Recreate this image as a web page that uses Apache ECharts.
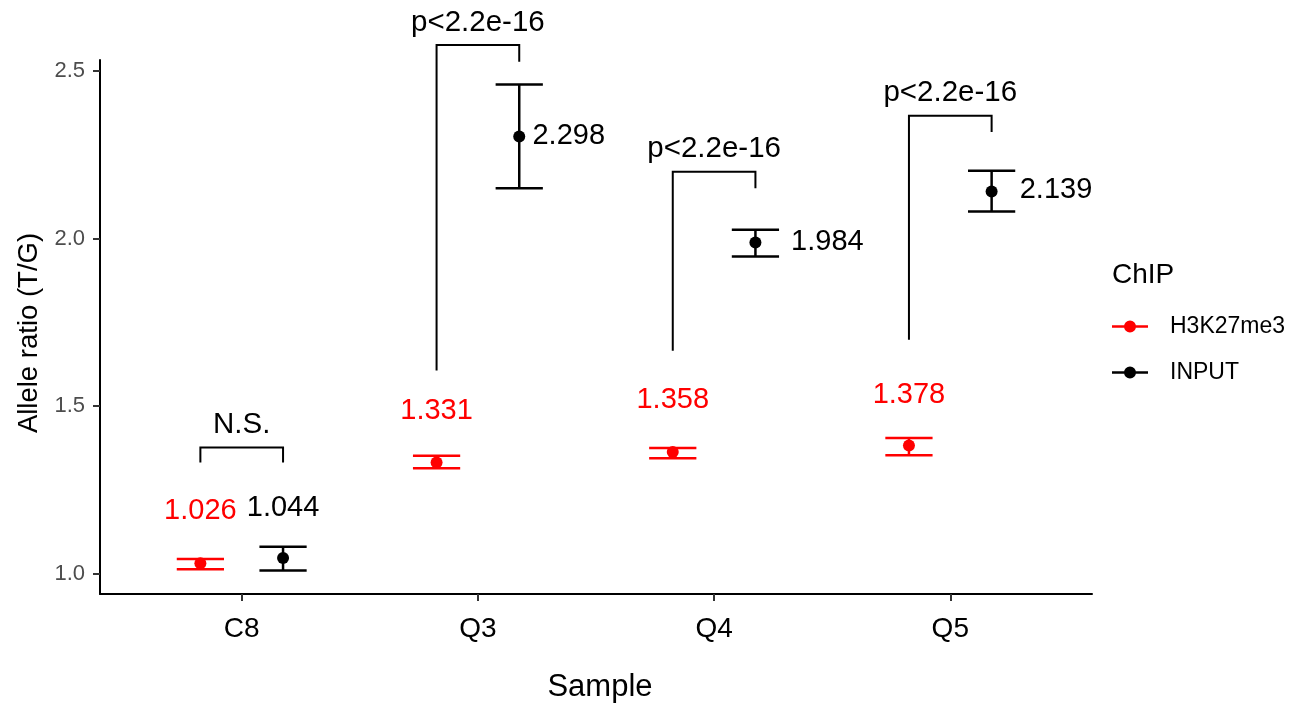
<!DOCTYPE html>
<html>
<head>
<meta charset="utf-8">
<script src="https://cdn.jsdelivr.net/npm/echarts@6/dist/echarts.min.js"></script>
<style>
  html, body { margin: 0; padding: 0; background: #ffffff; }
  #chart { width: 1302px; height: 704px; }
</style>
</head>
<body>
<div id="chart"></div>
<script>
// samples on the x axis
const categories = ['C8', 'Q3', 'Q4', 'Q5'];
const yTicks = [1.0, 1.5, 2.0, 2.5];

// H3K27me3 (red): mean and error bar ends
const redMean = [1.032, 1.332, 1.363, 1.383];
const redLow = [1.014, 1.315, 1.345, 1.354];
const redHigh = [1.044, 1.352, 1.375, 1.405];
const redLabels = ['1.026', '1.331', '1.358', '1.378'];

// INPUT (black)
const blackMean = [1.047, 2.304, 1.988, 2.140];
const blackLow = [1.010, 2.150, 1.946, 2.080];
const blackHigh = [1.081, 2.459, 2.026, 2.202];
const blackLabels = ['1.044', '2.298', '1.984', '2.139'];

// where the value labels sit (data units)
const redLabelY = [1.186, 1.486, 1.517, 1.534];
const blackLabelY = [1.197, 2.306, 1.990, 2.145];
const blackLabelDx = [0.175, 0.231, 0.326, 0.294];
const blackLabelAlign = ['center', 'left', 'left', 'left'];

// significance brackets
const sigText = ['N.S.', 'p<2.2e-16', 'p<2.2e-16', 'p<2.2e-16'];
const bracketTop = [1.377, 2.577, 2.199, 2.366];
const bracketLeftEnd = [1.332, 1.606, 1.665, 1.698];
const bracketRightEnd = [1.332, 2.527, 2.150, 2.317];

const FONT = "'Liberation Sans', Arial, sans-serif";
const DODGE = 0.175;
const RED = '#FF0000';
const BLACK = '#000000';

const chart = echarts.init(document.getElementById('chart'), null, { renderer: 'canvas' });

function errorBar(color) {
  return function (params, api) {
    const x = api.value(0);
    const top = api.coord([x, api.value(2)]);
    const bot = api.coord([x, api.value(1)]);
    const hw = api.size([0.1, 0])[0];
    const style = { stroke: color, lineWidth: 2.5 };
    return {
      type: 'group',
      children: [
        { type: 'line', shape: { x1: top[0], y1: top[1], x2: bot[0], y2: bot[1] }, style: style },
        { type: 'line', shape: { x1: top[0] - hw, y1: top[1], x2: top[0] + hw, y2: top[1] }, style: style },
        { type: 'line', shape: { x1: bot[0] - hw, y1: bot[1], x2: bot[0] + hw, y2: bot[1] }, style: style }
      ]
    };
  };
}

function textItem(color) {
  return function (params, api) {
    const p = api.coord([api.value(0), api.value(1)]);
    const d = params.dataIndex;
    return {
      type: 'text',
      x: p[0],
      y: p[1],
      style: {
        text: color === RED ? redLabels[d] : blackLabels[d],
        fill: color,
        font: '29px ' + FONT,
        align: color === RED ? 'center' : blackLabelAlign[d],
        verticalAlign: 'middle'
      }
    };
  };
}

function bracket(params, api) {
  const i = api.value(0);
  const pl = api.coord([i - DODGE, api.value(2)]);
  const ptl = api.coord([i - DODGE, api.value(1)]);
  const ptr = api.coord([i + DODGE, api.value(1)]);
  const pr = api.coord([i + DODGE, api.value(3)]);
  const pt = api.coord([i, api.value(1) + 0.067]);
  return {
    type: 'group',
    children: [
      { type: 'polyline', shape: { points: [pl, ptl, ptr, pr] }, style: { stroke: BLACK, lineWidth: 2, fill: null } },
      { type: 'text', x: pt[0], y: pt[1], style: { text: sigText[params.dataIndex], fill: BLACK, font: '29.5px ' + FONT, align: 'center', verticalAlign: 'middle' } }
    ]
  };
}

const legendIcon = 'path://M0 5.25 H36 V7.75 H0 Z M12 6.5 A6 6 0 1 1 24 6.5 A6 6 0 1 1 12 6.5 Z';

chart.setOption({
  animation: false,
  backgroundColor: '#ffffff',
  textStyle: { fontFamily: FONT },
  title: {
    text: 'ChIP',
    left: 1112,
    top: 261,
    padding: 0,
    textStyle: { fontSize: 28, fontWeight: 'normal', color: BLACK, fontFamily: FONT }
  },
  legend: {
    orient: 'vertical',
    left: 1112,
    top: 315,
    padding: 0,
    itemWidth: 36,
    itemHeight: 12,
    itemGap: 23,
    selectedMode: false,
    data: [
      { name: 'H3K27me3', icon: legendIcon },
      { name: 'INPUT', icon: legendIcon }
    ],
    textStyle: { fontSize: 23, color: BLACK, fontFamily: FONT, padding: [0, 0, 0, 17] }
  },
  grid: { left: 100, right: 210, top: 60, bottom: 110, containLabel: false, outerBoundsMode: 'none' },
  xAxis: {
    type: 'value',
    min: -0.6,
    max: 3.6,
    name: 'Sample',
    nameLocation: 'middle',
    nameGap: 78,
    nameTextStyle: { fontSize: 31, color: BLACK, fontFamily: FONT, padding: [0, 0, 0, 8] },
    axisLine: { show: true, onZero: false, lineStyle: { color: BLACK, width: 2 } },
    axisTick: { show: true, customValues: categories.map((c, i) => i), length: 7, lineStyle: { color: '#333333', width: 2 } },
    axisLabel: {
      customValues: categories.map((c, i) => i),
      formatter: v => categories[Math.round(v)],
      fontSize: 28, color: BLACK, margin: 21, fontFamily: FONT
    },
    splitLine: { show: false }
  },
  yAxis: {
    type: 'value',
    min: 0.94,
    max: 2.532,
    name: 'Allele ratio (T/G)',
    nameLocation: 'middle',
    nameRotate: 90,
    nameGap: 51,
    nameTextStyle: { fontSize: 27.5, color: BLACK, fontFamily: FONT, padding: [0, 12, 0, 0] },
    axisLine: { show: true, onZero: false, lineStyle: { color: BLACK, width: 2 } },
    axisTick: { show: true, customValues: yTicks, length: 7, lineStyle: { color: '#333333', width: 2 } },
    axisLabel: {
      customValues: yTicks,
      formatter: v => v.toFixed(1),
      fontSize: 22, color: '#4D4D4D', margin: 15, fontFamily: FONT
    },
    splitLine: { show: false }
  },
  series: [
    {
      name: 'H3K27me3 err', type: 'custom', renderItem: errorBar(RED), clip: false,
      data: categories.map((c, i) => [i - DODGE, redLow[i], redHigh[i]]), z: 2
    },
    {
      name: 'INPUT err', type: 'custom', renderItem: errorBar(BLACK), clip: false,
      data: categories.map((c, i) => [i + DODGE, blackLow[i], blackHigh[i]]), z: 2
    },
    {
      name: 'H3K27me3', type: 'scatter', symbol: 'circle', symbolSize: 12,
      itemStyle: { color: RED, opacity: 1 },
      data: categories.map((c, i) => [i - DODGE, redMean[i]]), z: 3
    },
    {
      name: 'INPUT', type: 'scatter', symbol: 'circle', symbolSize: 12,
      itemStyle: { color: BLACK, opacity: 1 },
      data: categories.map((c, i) => [i + DODGE, blackMean[i]]), z: 3
    },
    {
      name: 'red labels', type: 'custom', renderItem: textItem(RED), clip: false,
      data: categories.map((c, i) => [i - DODGE, redLabelY[i]]), z: 4
    },
    {
      name: 'black labels', type: 'custom', renderItem: textItem(BLACK), clip: false,
      data: categories.map((c, i) => [i + blackLabelDx[i], blackLabelY[i]]), z: 4
    },
    {
      name: 'brackets', type: 'custom', renderItem: bracket, clip: false,
      data: categories.map((c, i) => [i, bracketTop[i], bracketLeftEnd[i], bracketRightEnd[i]]), z: 4
    }
  ]
});
</script>
</body>
</html>
